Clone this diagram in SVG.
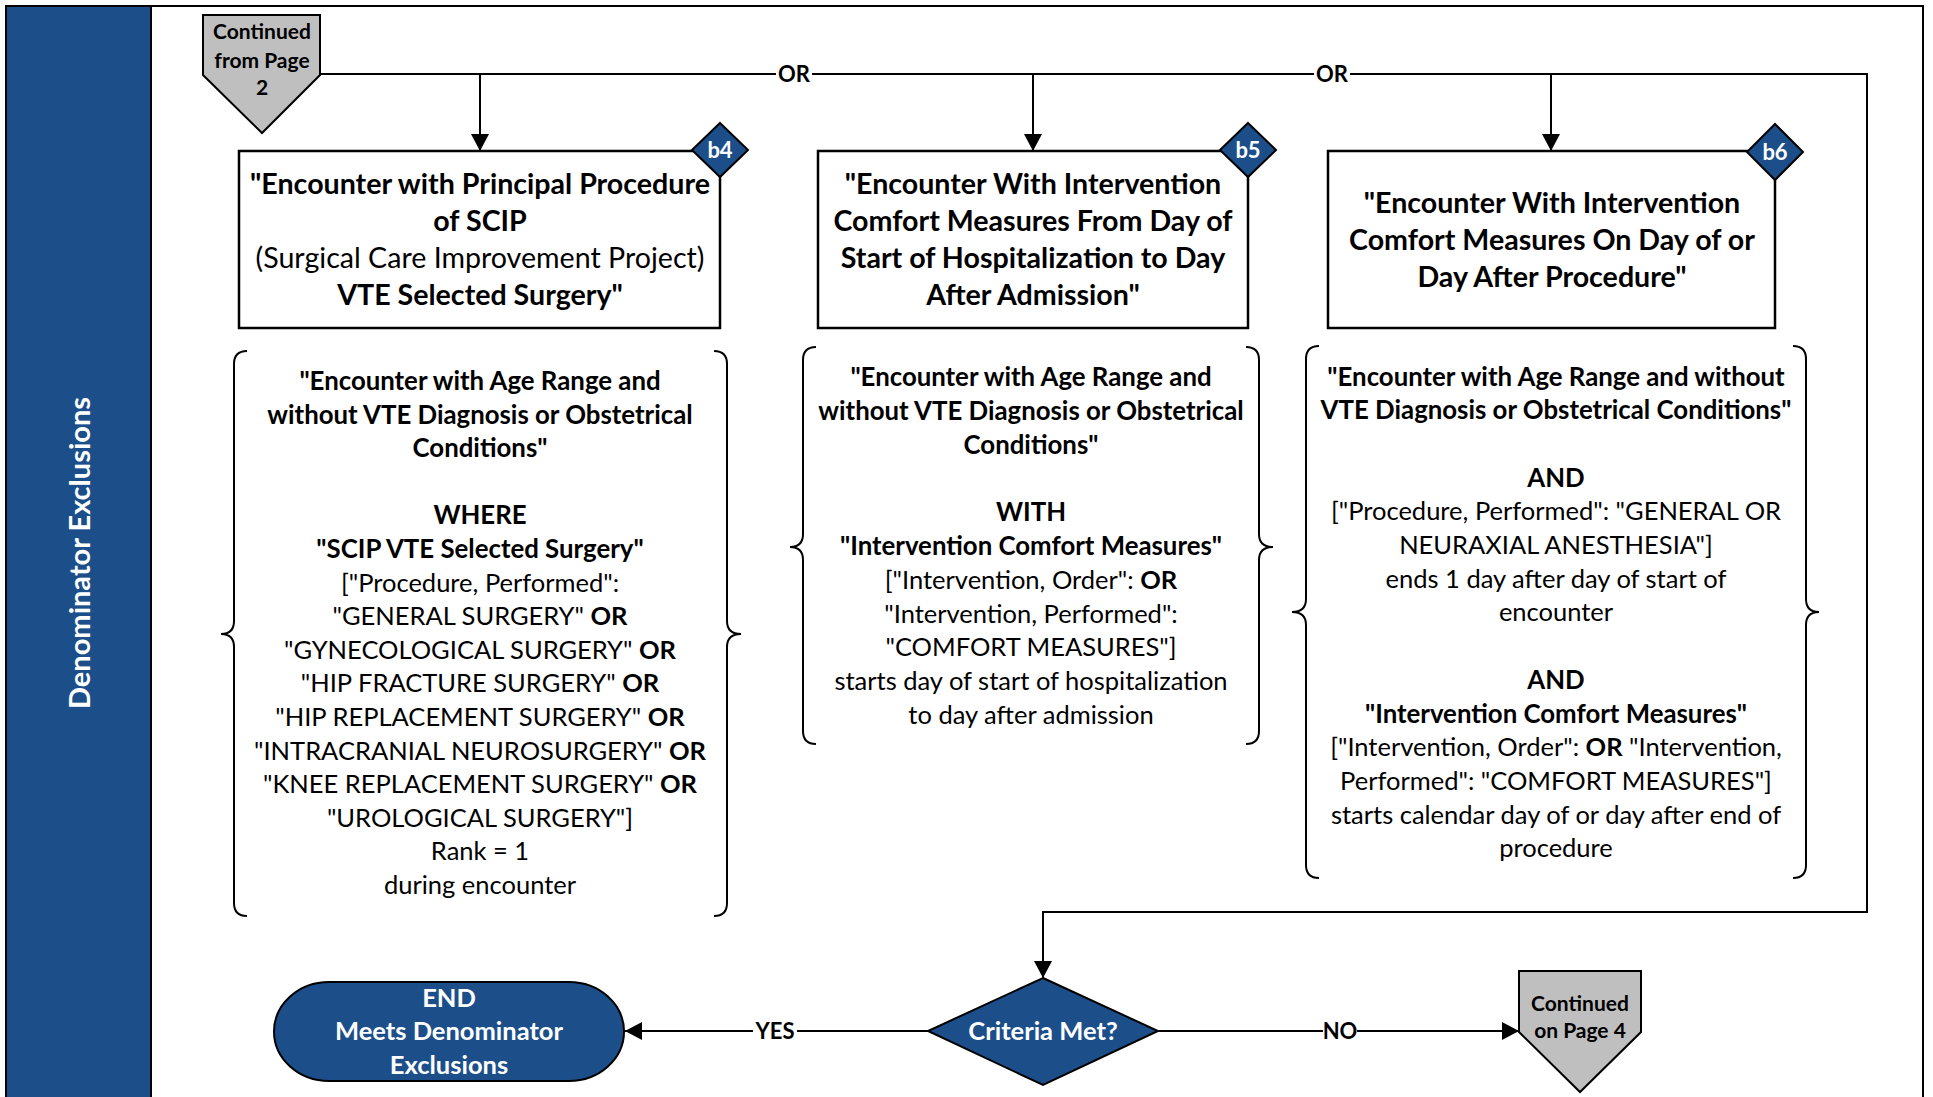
<svg xmlns="http://www.w3.org/2000/svg" width="1933" height="1097" viewBox="0 0 1933 1097">
<defs>
<style>
text{font-family:Lato,"Open Sans","Liberation Sans",sans-serif;text-anchor:middle;fill:#000}
.ti{font-size:28.6px;font-weight:700}
.tr{font-size:28.6px;font-weight:400}
.bd{font-size:25.5px}
.bb{font-size:25.8px;font-weight:700}
.b{font-weight:700}
.sm{font-size:21px;font-weight:700}
.tag{font-size:22px;font-weight:700;fill:#fff}
.wh{fill:#fff}
.lbl{font-size:22px;font-weight:700}
.big{font-size:25.5px;font-weight:700;fill:#fff}
.box{fill:#fff;stroke:#000;stroke-width:2.5}
.blue{fill:#1C4F8A;stroke:#000;stroke-width:2}
.gray{fill:#BFBFBF;stroke:#000;stroke-width:2}
.brace{fill:none;stroke:#000;stroke-width:2}
.ln{fill:none;stroke:#000;stroke-width:2}
</style>
<marker id="ah" markerUnits="userSpaceOnUse" markerWidth="18" markerHeight="18" refX="17" refY="9" orient="auto">
<path d="M0,0 L17,9 L0,18 Z" fill="#000"/>
</marker>
</defs>
<rect x="0" y="0" width="1933" height="1097" fill="#fff"/>
<rect x="6" y="6" width="1917" height="1110" fill="#fff" stroke="#000" stroke-width="2"/>
<g id="lane">
<rect x="6" y="6" width="145" height="1110" class="blue"/>
<text class="wh" font-size="29" font-weight="700" transform="translate(80,553) rotate(-90)" x="0" y="10">Denominator Exclusions</text>
</g>
<g id="connectors">
<path class="ln" d="M320,74 H1867 V912 H1043 V978" marker-end="url(#ah)"/>
<path class="ln" d="M480,74 V151" marker-end="url(#ah)"/>
<path class="ln" d="M1033,74 V151" marker-end="url(#ah)"/>
<path class="ln" d="M1551,74 V151" marker-end="url(#ah)"/>
<path class="ln" d="M928,1031 H625" marker-end="url(#ah)"/>
<path class="ln" d="M1158,1031 H1519" marker-end="url(#ah)"/>
<rect x="776" y="62" width="36" height="24" fill="#fff"/>
<text class="lbl" x="794" y="82">OR</text>
<rect x="1314" y="62" width="36" height="24" fill="#fff"/>
<text class="lbl" x="1332" y="82">OR</text>
<rect x="753" y="1019" width="44" height="24" fill="#fff"/>
<text class="lbl" x="775" y="1039">YES</text>
<rect x="1323" y="1019" width="34" height="24" fill="#fff"/>
<text class="lbl" x="1340" y="1039">NO</text>
</g>
<g id="from-page2">
<path class="gray" d="M203,15 H320 V75 L262,133 L203,75 Z"/>
<text class="sm" x="262" y="39">Continued</text>
<text class="sm" x="262" y="68">from Page</text>
<text class="sm" x="262" y="95">2</text>
</g>
<g id="b4">
<rect class="box" x="239" y="151" width="481" height="177"/>
<text class="ti" x="480" y="194">"Encounter with Principal Procedure</text>
<text class="ti" x="480" y="231">of SCIP</text>
<text class="tr" x="480" y="268">(Surgical Care Improvement Project)</text>
<text class="ti" x="480" y="305">VTE Selected Surgery"</text>
<path class="blue" d="M720,123 L748,150 L720,177 L692,150 Z"/>
<text class="tag" x="720" y="158">b4</text>
</g>
<g id="b5">
<rect class="box" x="818" y="151" width="430" height="177"/>
<text class="ti" x="1033" y="194">"Encounter With Intervention</text>
<text class="ti" x="1033" y="231">Comfort Measures From Day of</text>
<text class="ti" x="1033" y="268">Start of Hospitalization to Day</text>
<text class="ti" x="1033" y="305">After Admission"</text>
<path class="blue" d="M1248,123 L1276,150 L1248,177 L1220,150 Z"/>
<text class="tag" x="1248" y="158">b5</text>
</g>
<g id="b6">
<rect class="box" x="1328" y="151" width="447" height="177"/>
<text class="ti" x="1552" y="213">"Encounter With Intervention</text>
<text class="ti" x="1552" y="250">Comfort Measures On Day of or</text>
<text class="ti" x="1552" y="287">Day After Procedure"</text>
<path class="blue" d="M1775,124 L1803,152 L1775,180 L1747,152 Z"/>
<text class="tag" x="1775" y="160">b6</text>
</g>
<g id="c4">
<path class="brace" d="M247,351 Q234,351 234,364 V621 Q234,634 221,634 Q234,634 234,647 V903 Q234,916 247,916"/>
<path class="brace" d="M714,351 Q727,351 727,364 V621 Q727,634 741,634 Q727,634 727,647 V903 Q727,916 714,916"/>
<text class="bb" x="480" y="390">"Encounter with Age Range and</text>
<text class="bb" x="480" y="423.6">without VTE Diagnosis or Obstetrical</text>
<text class="bb" x="480" y="457.2">Conditions"</text>
<text class="bb" x="480" y="524.4">WHERE</text>
<text class="bb" x="480" y="558">"SCIP VTE Selected Surgery"</text>
<text class="bd" x="480" y="591.6">["Procedure, Performed":</text>
<text class="bd" x="480" y="625.2">"GENERAL SURGERY" <tspan class="b">OR</tspan></text>
<text class="bd" x="480" y="658.8">"GYNECOLOGICAL SURGERY" <tspan class="b">OR</tspan></text>
<text class="bd" x="480" y="692.4">"HIP FRACTURE SURGERY" <tspan class="b">OR</tspan></text>
<text class="bd" x="480" y="726">"HIP REPLACEMENT SURGERY" <tspan class="b">OR</tspan></text>
<text class="bd" x="480" y="759.6">"INTRACRANIAL NEUROSURGERY" <tspan class="b">OR</tspan></text>
<text class="bd" x="480" y="793.2">"KNEE REPLACEMENT SURGERY" <tspan class="b">OR</tspan></text>
<text class="bd" x="480" y="826.8">"UROLOGICAL SURGERY"]</text>
<text class="bd" x="480" y="860.4">Rank = 1</text>
<text class="bd" x="480" y="894">during encounter</text>
</g>
<g id="c5">
<path class="brace" d="M816,347 Q803,347 803,360 V534 Q803,547 790,547 Q803,547 803,560 V731 Q803,744 816,744"/>
<path class="brace" d="M1246,347 Q1259,347 1259,360 V534 Q1259,547 1273,547 Q1259,547 1259,560 V731 Q1259,744 1246,744"/>
<text class="bb" x="1031" y="386">"Encounter with Age Range and</text>
<text class="bb" x="1031" y="419.8">without VTE Diagnosis or Obstetrical</text>
<text class="bb" x="1031" y="453.6">Conditions"</text>
<text class="bb" x="1031" y="521.2">WITH</text>
<text class="bb" x="1031" y="555">"Intervention Comfort Measures"</text>
<text class="bd" x="1031" y="588.8">["Intervention, Order": <tspan class="b">OR</tspan></text>
<text class="bd" x="1031" y="622.6">"Intervention, Performed":</text>
<text class="bd" x="1031" y="656.4">"COMFORT MEASURES"]</text>
<text class="bd" x="1031" y="690.2">starts day of start of hospitalization</text>
<text class="bd" x="1031" y="724">to day after admission</text>
</g>
<g id="c6">
<path class="brace" d="M1319,346 Q1306,346 1306,359 V599 Q1306,612 1292,612 Q1306,612 1306,625 V865 Q1306,878 1319,878"/>
<path class="brace" d="M1793,346 Q1806,346 1806,359 V599 Q1806,612 1819,612 Q1806,612 1806,625 V865 Q1806,878 1793,878"/>
<text class="bb" x="1556" y="385.5">"Encounter with Age Range and without</text>
<text class="bb" x="1556" y="419.2">VTE Diagnosis or Obstetrical Conditions"</text>
<text class="bb" x="1556" y="486.6">AND</text>
<text class="bd" x="1556" y="520.3">["Procedure, Performed": "GENERAL OR</text>
<text class="bd" x="1556" y="554">NEURAXIAL ANESTHESIA"]</text>
<text class="bd" x="1556" y="587.7">ends 1 day after day of start of</text>
<text class="bd" x="1556" y="621.4">encounter</text>
<text class="bb" x="1556" y="688.8">AND</text>
<text class="bb" x="1556" y="722.5">"Intervention Comfort Measures"</text>
<text class="bd" x="1556" y="756.2">["Intervention, Order": <tspan class="b">OR</tspan> "Intervention,</text>
<text class="bd" x="1556" y="789.9">Performed": "COMFORT MEASURES"]</text>
<text class="bd" x="1556" y="823.6">starts calendar day of or day after end of</text>
<text class="bd" x="1556" y="857.3">procedure</text>
</g>
<g id="criteria">
<path class="blue" d="M1043,978 L1158,1031 L1043,1085 L928,1031 Z"/>
<text class="big" x="1043" y="1040">Criteria Met?</text>
</g>
<g id="end">
<rect class="blue" x="274" y="982" width="350" height="99" rx="55" ry="49.5"/>
<text class="big" x="449" y="1007">END</text>
<text class="big" x="449" y="1040">Meets Denominator</text>
<text class="big" x="449" y="1074">Exclusions</text>
</g>
<g id="to-page4">
<path class="gray" d="M1519,971 H1641 V1032 L1580,1092 L1519,1032 Z"/>
<text class="sm" x="1580" y="1011">Continued</text>
<text class="sm" x="1580" y="1038">on Page 4</text>
</g>
</svg>
